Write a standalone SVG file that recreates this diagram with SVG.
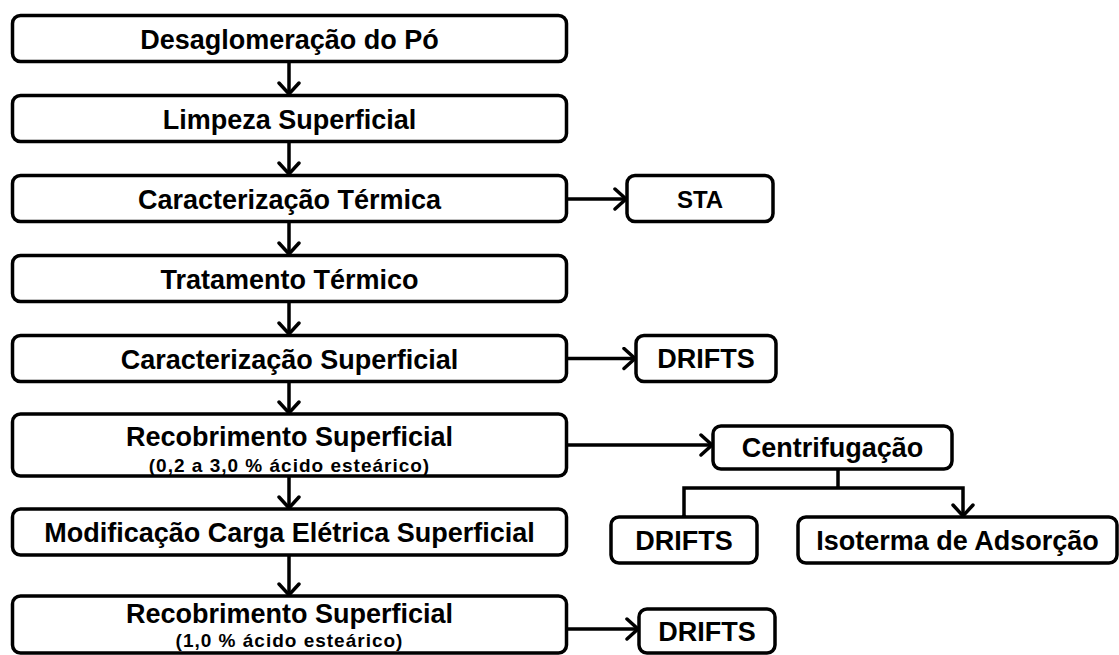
<svg xmlns="http://www.w3.org/2000/svg" width="1119" height="655" viewBox="0 0 1119 655">
<style>
.box{fill:#fff;stroke:#000;stroke-width:3.5}
.t{font-family:"Liberation Sans",Arial,sans-serif;font-weight:bold;font-size:27px;fill:#000;text-anchor:middle}
.s{font-family:"Liberation Sans",Arial,sans-serif;font-weight:bold;font-size:19px;letter-spacing:1px;fill:#000;text-anchor:middle}
.c{fill:none;stroke:#000;stroke-width:3.5}
</style>
<defs>
<marker id="ah" markerUnits="userSpaceOnUse" markerWidth="20" markerHeight="24" refX="13" refY="12" orient="auto" viewBox="0 0 20 24">
<path d="M2,2 L13,12 L2,22" fill="none" stroke="#000" stroke-width="3.5" stroke-linecap="round" stroke-linejoin="miter"/>
</marker>
</defs>
<rect width="1119" height="655" fill="#fff"/>
<g id="connectors">
<line class="c" x1="289" y1="61.5" x2="289" y2="94" marker-end="url(#ah)"/>
<line class="c" x1="289" y1="141.5" x2="289" y2="174" marker-end="url(#ah)"/>
<line class="c" x1="289" y1="221.5" x2="289" y2="254" marker-end="url(#ah)"/>
<line class="c" x1="289" y1="301.5" x2="289" y2="334" marker-end="url(#ah)"/>
<line class="c" x1="289" y1="381.5" x2="289" y2="413" marker-end="url(#ah)"/>
<line class="c" x1="289" y1="476" x2="289" y2="508" marker-end="url(#ah)"/>
<line class="c" x1="289" y1="555" x2="289" y2="595" marker-end="url(#ah)"/>
<line class="c" x1="566.5" y1="199" x2="626" y2="199" marker-end="url(#ah)"/>
<line class="c" x1="566.5" y1="358.5" x2="635" y2="358.5" marker-end="url(#ah)"/>
<line class="c" x1="566.5" y1="445" x2="712" y2="445" marker-end="url(#ah)"/>
<line class="c" x1="566.5" y1="629" x2="638" y2="629" marker-end="url(#ah)"/>
<line class="c" x1="838" y1="469" x2="838" y2="488"/>
<path class="c" d="M684,516 L684,488 L963,488 L963,516" marker-start="url(#ah)" marker-end="url(#ah)"/>
</g>
<g id="n1"><rect class="box" x="12.5" y="15.5" width="554" height="46" rx="8"/><text class="t" x="289.5" y="49">Desaglomeração do Pó</text></g>
<g id="n2"><rect class="box" x="12.5" y="95.5" width="554" height="46" rx="8"/><text class="t" x="289.5" y="129">Limpeza Superficial</text></g>
<g id="n3"><rect class="box" x="12.5" y="175.5" width="554" height="46" rx="8"/><text class="t" x="289.5" y="209">Caracterização Térmica</text></g>
<g id="n4"><rect class="box" x="12.5" y="255.5" width="554" height="46" rx="8"/><text class="t" x="289.5" y="289">Tratamento Térmico</text></g>
<g id="n5"><rect class="box" x="12.5" y="335.5" width="554" height="46" rx="8"/><text class="t" x="289.5" y="369">Caracterização Superficial</text></g>
<g id="n6"><rect class="box" x="12.5" y="414" width="554" height="62" rx="8"/><text class="t" x="289.5" y="446">Recobrimento Superficial</text><text class="s" x="289.5" y="472">(0,2 a 3,0 % ácido esteárico)</text></g>
<g id="n7"><rect class="box" x="12.5" y="509" width="554" height="46" rx="8"/><text class="t" x="289.5" y="542">Modificação Carga Elétrica Superficial</text></g>
<g id="n8"><rect class="box" x="12.5" y="596" width="554" height="57" rx="8"/><text class="t" x="289.5" y="623">Recobrimento Superficial</text><text class="s" x="289.5" y="647">(1,0 % ácido esteárico)</text></g>
<g id="sta"><rect class="box" x="627" y="175.5" width="146" height="46" rx="8"/><text class="t" x="700" y="208" style="font-size:24px">STA</text></g>
<g id="drifts1"><rect class="box" x="636" y="335.5" width="140" height="46" rx="8"/><text class="t" x="706" y="368">DRIFTS</text></g>
<g id="centrif"><rect class="box" x="713" y="426" width="239" height="43" rx="8"/><text class="t" x="832.5" y="457">Centrifugação</text></g>
<g id="drifts2"><rect class="box" x="611" y="517" width="146" height="46" rx="8"/><text class="t" x="684" y="550">DRIFTS</text></g>
<g id="isoterma"><rect class="box" x="798" y="517" width="319" height="46" rx="8"/><text class="t" x="957.5" y="550">Isoterma de Adsorção</text></g>
<g id="drifts3"><rect class="box" x="639" y="609" width="136" height="44" rx="8"/><text class="t" x="707" y="641">DRIFTS</text></g>
</svg>
